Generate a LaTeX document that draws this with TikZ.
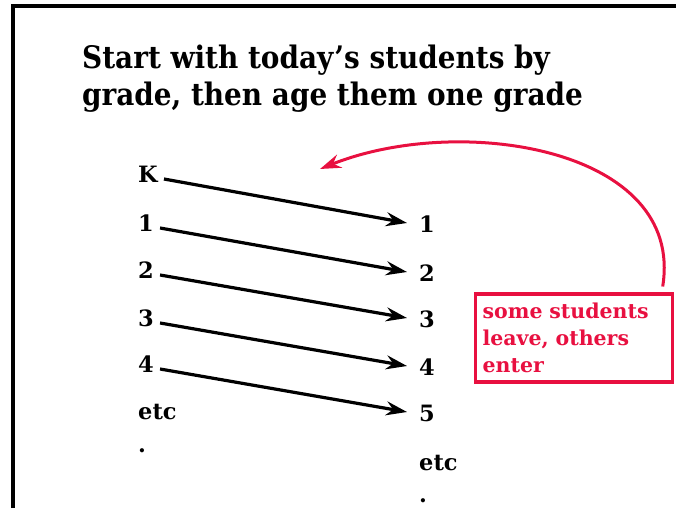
\documentclass[tikz,border=0pt]{standalone}
\usepackage{fontspec}
\setmainfont{DejaVu Serif Condensed}
\newfontfamily\widefont{DejaVu Serif}
\usetikzlibrary{arrows.meta}
\definecolor{notered}{RGB}{232,16,64}

\tikzset{
  grade/.style={font=\widefont\bfseries\fontsize{22.5}{26}\selectfont, inner sep=0pt,
    text height=16pt, text depth=0pt, anchor=base west},
  ageline/.style={line width=3.2pt, -{Stealth[length=21pt,width=14pt,inset=7pt]}},
}

\begin{document}
\begin{tikzpicture}[x=1pt, y=1pt]
\useasboundingbox (0,0) rectangle (676,508);
\draw[line width=3.5pt] (13,0) -- (13,502) -- (676,502);
\node[anchor=north west, inner sep=0pt, align=left,
  font=\bfseries\fontsize{31}{37}\selectfont] (title) at (82,463)
  {Start with today’s students by\\grade, then age them one grade};
% today
\node[grade] (k)  at (138,325) {K};
\node[grade] (g1) at (138,276) {1};
\node[grade] (g2) at (138,229) {2};
\node[grade] (g3) at (138,181) {3};
\node[grade] (g4) at (138,135) {4};
\node[grade] (etc) at (138,88) {etc};
\node[grade] (dot) at (138,56) {.};
% next year
\node[grade] (n1) at (419,275) {1};
\node[grade] (n2) at (419,226) {2};
\node[grade] (n3) at (419,180) {3};
\node[grade] (n4) at (419,132) {4};
\node[grade] (n5) at (419,86) {5};
\node[grade] (netc) at (419,38) {etc};
\node[grade] (ndot) at (419,6) {.};
\draw[ageline] ([xshift=6pt,yshift=-4pt]k.east)  -- ([xshift=-12pt,yshift=2pt]n1.west);
\draw[ageline] ([xshift=6pt,yshift=-4pt]g1.east) -- ([xshift=-12pt,yshift=2pt]n2.west);
\draw[ageline] ([xshift=6pt,yshift=-4pt]g2.east) -- ([xshift=-12pt,yshift=2pt]n3.west);
\draw[ageline] ([xshift=6pt,yshift=-4pt]g3.east) -- ([xshift=-12pt,yshift=2pt]n4.west);
\draw[ageline] ([xshift=6pt,yshift=-4pt]g4.east) -- ([xshift=-12pt,yshift=2pt]n5.west);
% turnover
\node[draw=notered, line width=3.2pt, text=notered, anchor=north west,
  minimum width=197pt, minimum height=88pt, text width=182pt, align=left,
  font=\widefont\bfseries\fontsize{20.5}{27}\selectfont] (note) at (473.5,215.5)
  {some students\\leave, others\\enter};
\coordinate (gap) at (320,339);
\draw[notered, line width=3pt, -{Stealth[length=21pt,width=14pt,inset=7pt]}]
  ([xshift=-11pt,yshift=6pt]note.north east) .. controls (685,360) and (460,395) .. (gap);
\end{tikzpicture}
\end{document}
